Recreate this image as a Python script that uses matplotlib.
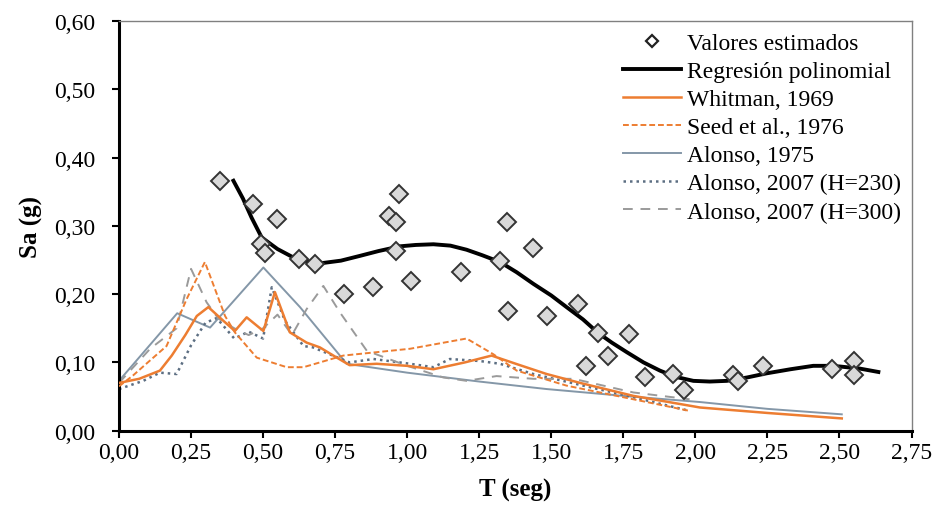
import matplotlib.pyplot as plt
from matplotlib.lines import Line2D
from matplotlib.ticker import FuncFormatter
import numpy as np

# Valores estimados (diamantes)
t_est = [0.350, 0.466, 0.549, 0.492, 0.508, 0.626, 0.681, 0.781, 0.880, 1.012,
         0.972, 0.938, 0.961, 0.961, 1.187, 1.322, 1.347, 1.350, 1.438, 1.484,
         1.593, 1.663, 1.771, 1.696, 1.620, 1.825, 1.921, 1.960, 2.129, 2.149,
         2.236, 2.473, 2.551, 2.550]
sa_est = [0.366, 0.332, 0.310, 0.273, 0.260, 0.251, 0.244, 0.200, 0.211, 0.219,
          0.347, 0.315, 0.305, 0.263, 0.232, 0.249, 0.305, 0.175, 0.267, 0.168,
          0.185, 0.143, 0.142, 0.109, 0.095, 0.078, 0.083, 0.060, 0.082, 0.073,
          0.095, 0.091, 0.102, 0.081]

# Regresion polinomial
t_reg = [0.397, 0.43, 0.46, 0.495, 0.55, 0.617, 0.697, 0.77, 0.836, 0.90, 0.975,
         1.03, 1.091, 1.15, 1.206, 1.26, 1.322, 1.38, 1.438, 1.50, 1.553, 1.61,
         1.663, 1.71, 1.762, 1.82, 1.877, 1.93, 1.993, 2.05, 2.109, 2.18, 2.247,
         2.33, 2.409, 2.46, 2.502, 2.57, 2.635]
sa_reg = [0.366, 0.340, 0.312, 0.283, 0.266, 0.251, 0.245, 0.249, 0.256, 0.263, 0.270,
          0.272, 0.273, 0.271, 0.265, 0.257, 0.247, 0.232, 0.215, 0.198, 0.181, 0.163,
          0.143, 0.129, 0.115, 0.100, 0.088, 0.079, 0.073, 0.072, 0.073, 0.078, 0.084,
          0.090, 0.095, 0.095, 0.094, 0.091, 0.086]

# Whitman, 1969
t_wh = [0.0, 0.07, 0.142, 0.183, 0.23, 0.27, 0.31, 0.362, 0.402, 0.443, 0.501,
        0.541, 0.593, 0.651, 0.697, 0.744, 0.80, 0.894, 1.0, 1.091, 1.20, 1.293,
        1.384, 1.484, 1.60, 1.785, 2.016, 2.25, 2.508]
sa_wh = [0.070, 0.076, 0.088, 0.110, 0.140, 0.168, 0.181, 0.161, 0.146, 0.166, 0.146,
         0.203, 0.144, 0.129, 0.122, 0.110, 0.096, 0.098, 0.095, 0.090, 0.100, 0.110,
         0.097, 0.083, 0.070, 0.051, 0.034, 0.026, 0.018]

# Seed et al., 1976
t_seed = [0.0, 0.049, 0.10, 0.165, 0.235, 0.298, 0.368, 0.402, 0.478, 0.582, 0.64,
          0.697, 0.778, 1.01, 1.206, 1.299, 1.38, 1.553, 1.785, 1.98]
sa_seed = [0.065, 0.081, 0.100, 0.124, 0.193, 0.247, 0.168, 0.144, 0.107, 0.093, 0.093,
           0.100, 0.110, 0.120, 0.135, 0.112, 0.088, 0.066, 0.046, 0.029]

# Alonso, 1975
t_a75 = [0.0, 0.202, 0.316, 0.501, 0.628, 0.79, 1.0, 1.25, 1.484, 1.75, 2.016, 2.25, 2.508]
sa_a75 = [0.073, 0.172, 0.151, 0.239, 0.181, 0.098, 0.085, 0.072, 0.061, 0.051, 0.042, 0.032, 0.024]

# Alonso, 2007 (H=230)
t_a230 = [0.0, 0.084, 0.142, 0.20, 0.25, 0.30, 0.339, 0.40, 0.45, 0.50, 0.53, 0.576,
          0.64, 0.673, 0.80, 0.883, 1.01, 1.091, 1.148, 1.253, 1.322, 1.438, 1.611,
          1.785, 1.98]
sa_a230 = [0.061, 0.073, 0.085, 0.083, 0.125, 0.158, 0.165, 0.135, 0.145, 0.135, 0.210, 0.161,
           0.124, 0.122, 0.100, 0.105, 0.098, 0.093, 0.105, 0.102, 0.098, 0.083, 0.066,
           0.049, 0.029]

# Alonso, 2007 (H=300)
t_a300 = [0.0, 0.108, 0.20, 0.25, 0.304, 0.345, 0.40, 0.45, 0.50, 0.55, 0.60, 0.651,
          0.709, 0.767, 0.86, 1.0, 1.125, 1.206, 1.31, 1.438, 1.577, 1.785, 1.98]
sa_a300 = [0.070, 0.120, 0.150, 0.237, 0.188, 0.164, 0.150, 0.140, 0.150, 0.170, 0.140, 0.178,
           0.212, 0.173, 0.117, 0.095, 0.078, 0.073, 0.080, 0.076, 0.076, 0.056, 0.046]

x_ticks = np.arange(0, 2.76, 0.25)
y_ticks = np.arange(0, 0.61, 0.10)

plt.rcParams['font.family'] = ['Liberation Serif', 'DejaVu Serif']

fig = plt.figure(figsize=(9.37, 5.10), dpi=100)
ax = fig.add_axes([0.127, 0.1535, 0.8458, 0.8035])

orange = '#ED7D31'
ax.plot(t_a75, sa_a75, color='#8497A8', lw=1.4, label='Alonso, 1975', zorder=2)
ax.plot(t_a230, sa_a230, color='#5C6E82', lw=1.8, ls=(0, (1, 1.6)), label='Alonso, 2007 (H=230)', zorder=2)
ax.plot(t_a300, sa_a300, color='#9A9A9A', lw=1.4, ls=(0, (5, 4)), label='Alonso, 2007 (H=300)', zorder=2)
ax.plot(t_wh, sa_wh, color=orange, lw=1.8, label='Whitman, 1969', zorder=3)
ax.plot(t_seed, sa_seed, color=orange, lw=1.4, ls=(0, (3, 1.5)), label='Seed et al., 1976', zorder=3)
ax.plot(t_reg, sa_reg, color='black', lw=2.8, label='Regresión polinomial', zorder=4)
ax.plot(t_est, sa_est, ls='none', marker='D', ms=9, mfc='#D9D9D9', mec='#333333',
        mew=1.4, label='Valores estimados', zorder=5)

ax.set_xlim(0, 2.75)
ax.set_ylim(0, 0.60)
ax.set_xticks(x_ticks)
ax.set_yticks(y_ticks)
fmt = FuncFormatter(lambda v, p: f'{v:.2f}'.replace('.', ','))
ax.xaxis.set_major_formatter(fmt)
ax.yaxis.set_major_formatter(fmt)
ax.tick_params(direction='out', length=5, width=1.5, labelsize=17)
ax.tick_params(axis='y', pad=12)
ax.tick_params(axis='x', pad=3)

for s in ['left', 'bottom']:
    ax.spines[s].set_linewidth(2.2)
    ax.spines[s].set_color('black')
for s in ['top', 'right']:
    ax.spines[s].set_linewidth(1.0)
    ax.spines[s].set_color('#808080')

ax.set_xlabel('T (seg)', fontsize=18, fontweight='bold', labelpad=11)
ax.set_ylabel('Sa (g)', fontsize=18, fontweight='bold', labelpad=8)

order = ['Valores estimados', 'Regresión polinomial', 'Whitman, 1969', 'Seed et al., 1976',
         'Alonso, 1975', 'Alonso, 2007 (H=230)', 'Alonso, 2007 (H=300)']
handles, labels = ax.get_legend_handles_labels()
hmap = dict(zip(labels, handles))
# small hollow diamond in the legend, as in the original
hmap['Valores estimados'] = Line2D([], [], ls='none', marker='D', ms=6, mfc='white',
                                   mec='#222222', mew=1.6)
ax.legend([hmap[k] for k in order], order, loc='upper left', bbox_to_anchor=(0.622, 1.0),
          frameon=False, fontsize=17, handlelength=2.45, handletextpad=0.25,
          labelspacing=0.28, borderaxespad=0.28, borderpad=0.2)

fig.savefig('out.png', dpi=100)
